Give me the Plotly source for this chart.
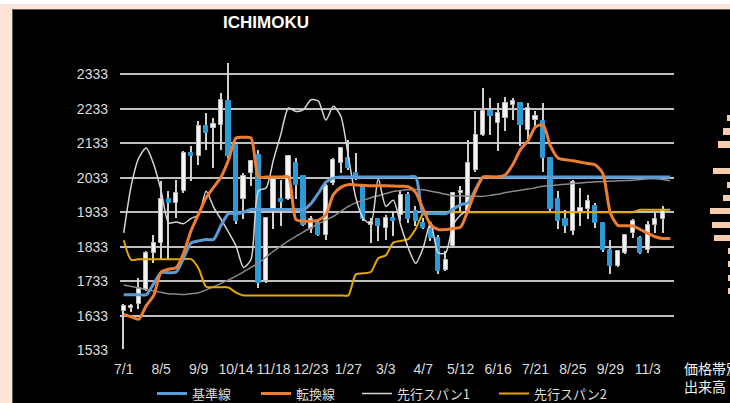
import plotly.graph_objects as go
import pandas as pd

# ---- categories (weekly) ----
weeks = [f"{d.month}/{d.day}" for d in pd.date_range("2013-07-01", periods=74, freq="7D")]
tick_idx = list(range(0, 74, 5))
tick_labels = [weeks[i] for i in tick_idx]

# ---- weekly candles (73 weeks) ----
opens = [1648,1655,1666,1709,1815,1844,1970,1960,1994,2104,
         2095,2182,2178,2186,2254,2129,1970,2047,2100,1733,
         1941,1970,1970,2075,2037,1885,1902,1868,2018,2075,
         2090,2047,2008,1895,1912,1888,1917,1926,1984,1936,
         1902,1885,1859,1767,1835,1988,1936,2056,2157,2225,
         2191,2206,2244,2249,2172,2201,2196,2090,1970,1912,
         1880,1935,1941,1950,1902,1825,1777,1815,1873,1859,
         1825,1897,1912]
highs = [1668,1668,1743,1820,1868,2023,1994,2027,2110,2124,
         2196,2220,2205,2278,2365,2135,2047,2085,2114,1920,
         2035,2027,2100,2090,2040,1923,1907,2015,2090,2122,
         2143,2104,2013,1917,1917,1926,1936,1994,1991,1950,
         1917,1900,1868,1820,1992,2008,2143,2225,2292,2264,
         2249,2268,2264,2249,2249,2225,2249,2092,1994,1940,
         2027,2003,1984,1960,1904,1854,1822,1870,1914,1864,
         1907,1931,1950]
lows = [1537,1643,1652,1705,1786,1796,1796,1917,1989,2023,
        2071,2114,2062,2114,2090,1900,1912,2008,1714,1729,
        1883,1893,1968,1970,1893,1873,1864,1854,2013,2047,
        2056,2025,1907,1844,1849,1854,1864,1907,1902,1893,
        1883,1850,1753,1762,1830,1931,1931,2051,2153,2157,
        2109,2167,2201,2124,2138,2182,2051,1936,1883,1873,
        1868,1893,1912,1888,1817,1753,1775,1813,1859,1811,
        1815,1873,1873]
closes = [1662,1662,1711,1815,1845,1970,1960,1989,2104,2095,
          2182,2162,2190,2259,2095,1907,2037,2080,1729,1917,
          2030,1962,2095,2013,1897,1912,1868,2010,2085,2119,
          2061,2030,1912,1905,1893,1917,1907,1984,1912,1907,
          1888,1858,1762,1796,1989,1995,2075,2157,2225,2211,
          2220,2249,2254,2186,2235,2211,2090,1941,1907,1893,
          2020,1945,1965,1902,1825,1777,1820,1868,1907,1815,
          1897,1912,1936]

# ---- ichimoku lines (74 points) ----
kijun = [1694,1694,1694,1694,1726,1758,1758,1760,1800,1844,
         1850,1854,1854,1895,1929,1929,1933,1941,1941,1941,
         1941,1941,1941,1941,1941,1958,1988,2020,2032,2035,
         2035,2035,2035,2035,2035,2035,2035,2035,2035,2035,
         1929,1929,1929,1929,1942,1955,1960,2000,2035,2035,
         2035,2035,2035,2035,2035,2035,2035,2035,2035,2035,
         2035,2035,2035,2035,2035,2035,2035,2035,2035,2035,
         2035,2035,2035,2035]
tenkan = [1637,1630,1623,1662,1692,1760,1768,1772,1815,1880,
          1928,1975,2005,2035,2085,2148,2150,2148,2035,2035,
          2035,2035,2035,1912,1907,1907,1910,1926,1984,2005,
          2013,2012,2011,2010,2010,2010,2009,2008,2007,1990,
          1941,1897,1883,1883,1886,1890,1940,1995,2035,2035,
          2035,2042,2072,2115,2140,2180,2186,2125,2090,2085,
          2082,2078,2074,2070,2045,1931,1895,1894,1893,1883,
          1872,1862,1857,1857]
senkou2 = [1852,1795,1797,1797,1797,1797,1797,1797,1797,1797,
           1770,1717,1716,1716,1715,1700,1692,1692,1692,1692,
           1692,1692,1692,1692,1692,1692,1692,1692,1692,1692,
           1692,1753,1756,1760,1800,1808,1845,1850,1855,1885,
           1929,1933,1933,1933,1933,1933,1933,1933,1933,1933,
           1933,1933,1933,1933,1933,1933,1933,1933,1933,1933,
           1933,1933,1933,1933,1933,1933,1933,1933,1933,1940,
           1940,1940,1940,1940]
smooth_gray = [1722,1718,1714,1709,1705,1701,1697,1696,1695,1697,
               1700,1708,1717,1727,1737,1748,1760,1773,1786,1803,
               1820,1835,1850,1863,1876,1888,1900,1911,1921,1936,
               1950,1960,1968,1975,1981,1987,1993,1996,1998,1999,
               1998,1994,1990,1985,1981,1980,1979,1979,1979,1982,
               1985,1990,1994,1997,2000,2004,2008,2010,2012,2014,
               2016,2018,2020,2021,2022,2023,2024,2025,2026,2028,
               2030,2030,2028,2024]
senkou1 = [1873,2010,2090,2119,2072,1995,1902,1905,1900,1915,
           1925,1994,1948,1912,1875,1835,1773,1796,1995,2003,
           2085,2160,2235,2225,2230,2259,2255,2200,2240,2211,
           2095,1975,1915,1900,2030,1950,1968,1895,1830,1785,
           1830,1905,1815,1815,1897,1925,1940]

# ---- volume by price (visible part) ----
vol_price = [2206,2167,2129,2053,2013,1974,1936,1897,1859,1820,1782,1743,1704]
vol_len = [3.3,6.7,12.3,17.3,3.3,6.7,20,18.3,15.7,2,2,2,2]

W, H = 730, 403
ML, MR, MT, MB = 120, 0, 60, 52
PW = W - ML - MR
PH = H - MT - MB
def px_x(x):
    return (x - ML) / PW
def px_y(y):
    return (H - MB - y) / PH

n = len(opens)
xc = list(range(n))
up_col, dn_col = "#F4F4F4", "#2B9BD8"
body_base = [min(o, c) for o, c in zip(opens, closes)]
body_h = [max(abs(c - o), 4) for o, c in zip(opens, closes)]
body_fill = [up_col if c >= o else dn_col for o, c in zip(opens, closes)]
body_line = ["#BFBFBF" if c >= o else dn_col for o, c in zip(opens, closes)]

fig = go.Figure()
# wicks
fig.add_trace(go.Bar(x=xc, y=[h - l for h, l in zip(highs, lows)], base=lows,
                     width=0.2, marker=dict(color="#D0D0D0", line=dict(width=0)),
                     showlegend=False, hoverinfo="skip"))
# bodies
fig.add_trace(go.Bar(x=xc, y=body_h, base=body_base, width=0.56,
                     marker=dict(color=body_fill, line=dict(color=body_line, width=1)),
                     showlegend=False, hoverinfo="skip"))

xl = list(range(74))
def line(y, color, width, name, legend=None, show=True):
    return go.Scatter(x=xl[:len(y)], y=y, mode="lines", name=name,
                      line=dict(color=color, width=width, shape="spline", smoothing=0.7),
                      showlegend=show, legend=legend, hoverinfo="skip")

fig.add_trace(line(smooth_gray, "#8A8A8A", 1.5, "gray", show=False))
fig.add_trace(line(senkou2, "#E5A800", 2, "先行スパン2", legend="legend4"))
fig.add_trace(line(senkou1, "#D6D6D6", 1.5, "先行スパン1", legend="legend3"))
fig.add_trace(line(kijun, "#5B9BD5", 3, "基準線", legend="legend"))
fig.add_trace(line(tenkan, "#ED7D31", 3, "転換線", legend="legend2"))

# volume by price bars
fig.add_trace(go.Bar(x=vol_len, y=vol_price, orientation="h", width=18,
                     marker=dict(color="#F8CBAD", line=dict(width=0)),
                     xaxis="x2", yaxis="y2", showlegend=False, hoverinfo="skip"))

txt = "#DCDCDC"
leg_font = dict(family="Noto Sans CJK JP", size=13, color=txt)
leg_common = dict(orientation="h", xanchor="left", yanchor="middle",
                  xref="container", yref="container",
                  bgcolor="rgba(0,0,0,0)", font=leg_font, y=1 - 393.5 / H)

fig.update_layout(
    width=W, height=H,
    margin=dict(l=ML, r=MR, t=MT, b=MB),
    paper_bgcolor="black", plot_bgcolor="black",
    barmode="overlay", bargap=0,
    xaxis=dict(domain=[0, px_x(674)], range=[-0.5, 73.5], tickvals=tick_idx,
               ticktext=tick_labels, showgrid=False, zeroline=False, showline=False,
               ticks="", ticklabelstandoff=8,
               tickfont=dict(family="Liberation Sans", size=14, color=txt)),
    yaxis=dict(range=[1531, 2374], tick0=1533, dtick=100, showgrid=True,
               gridcolor="#BFBFBF", gridwidth=1.6, zeroline=False, showline=False,
               ticks="", ticklabelstandoff=11,
               tickfont=dict(family="Liberation Sans", size=14, color=txt)),
    xaxis2=dict(domain=[px_x(708), 1], range=[22, 0], visible=False, anchor="y2"),
    yaxis2=dict(domain=[0, 1], range=[1531, 2374], visible=False, anchor="x2"),
    legend=dict(x=152 / W, **leg_common),
    legend2=dict(x=256 / W, **leg_common),
    legend3=dict(x=357 / W, **leg_common),
    legend4=dict(x=494 / W, **leg_common),
    shapes=[
        dict(type="rect", xref="paper", yref="paper", x0=px_x(0), x1=px_x(731),
             y0=px_y(9), y1=px_y(0), fillcolor="#FCE4D6", line=dict(width=0), layer="above"),
        dict(type="rect", xref="paper", yref="paper", x0=px_x(0), x1=px_x(731),
             y0=px_y(4), y1=px_y(0), fillcolor="#FFFFFF", line=dict(width=0), layer="above"),
        dict(type="rect", xref="paper", yref="paper", x0=px_x(0), x1=px_x(12),
             y0=px_y(404), y1=px_y(4), fillcolor="#FCE4D6", line=dict(width=0), layer="above"),
        dict(type="line", xref="paper", yref="paper", x0=px_x(12), x1=px_x(731),
             y0=px_y(9.5), y1=px_y(9.5), line=dict(color="#595959", width=1)),
        dict(type="line", xref="paper", yref="paper", x0=px_x(12.5), x1=px_x(12.5),
             y0=px_y(9.5), y1=px_y(404), line=dict(color="#595959", width=1)),
    ],
    annotations=[
        dict(text="<b>ICHIMOKU</b>", xref="paper", yref="paper", x=px_x(266), y=px_y(22),
             xanchor="center", yanchor="middle", showarrow=False,
             font=dict(family="Liberation Sans", size=17, color="white")),
        dict(text="価格帯別<br>出来高", xref="paper", yref="paper", x=px_x(682), y=px_y(377),
             xanchor="left", yanchor="middle", align="left", showarrow=False,
             font=dict(family="Noto Sans CJK JP", size=14, color="#F2F2F2")),
    ],
)

fig.write_html("out.html", config={"displayModeBar": False},
               post_script="document.body.style.margin='0';document.body.style.overflow='hidden';")
